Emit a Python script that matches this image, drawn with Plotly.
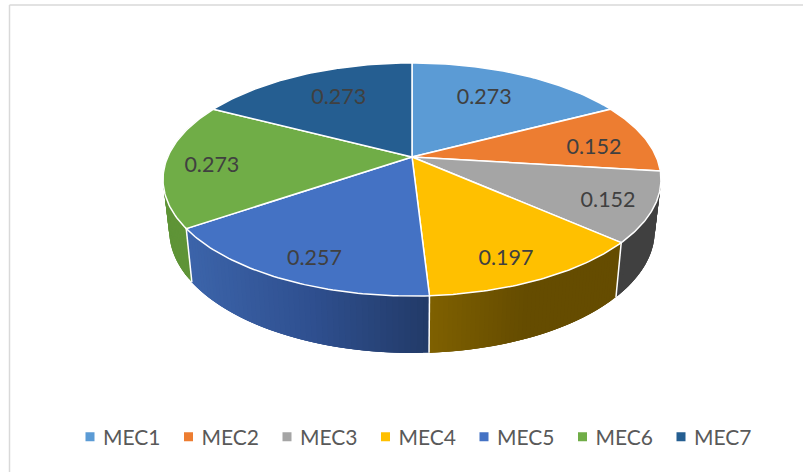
import math
import plotly.graph_objects as go

# ---- data ----
categories = ["MEC1", "MEC2", "MEC3", "MEC4", "MEC5", "MEC6", "MEC7"]
values = [0.273, 0.152, 0.152, 0.197, 0.257, 0.273, 0.273]

# ---- styles ----
top_colors = ["#5B9BD5", "#ED7D31", "#A5A5A5", "#FFC000", "#4472C4", "#70AD47", "#255E91"]
wall_left = ["#3E6E9B", "#A85820", "#404040", "#7F6000", "#3C64AA", "#5F9437", "#1B4468"]
wall_mid = ["#3E6E9B", "#A85820", "#404040", "#654C00", "#2F5090", "#5F9437", "#1B4468"]
wall_right = ["#3E6E9B", "#A85820", "#404040", "#654C00", "#223A68", "#5F9437", "#1B4468"]
label_nudge = [(-5, 13), (35, 7), (60, 10), (29, 28), (-32, 28), (-51, 5), (4, 13)]

# projection of the pie disc (tilted circle in perspective), in page pixels
HUB_X, HUB_Y = 412, 157
A, B, K = 244.3, 112.2, 0.193


def top_pt(t):
    d = 1 + K * math.cos(t)
    return HUB_X + A * math.sin(t) / d, HUB_Y - B * math.cos(t) / d


def bottom_pt(t):
    x, y = top_pt(t)
    return HUB_X + 0.975 * (x - HUB_X), 207 + 1.05 * (y - HUB_Y)


def hex2rgb(h):
    return tuple(int(h[i:i + 2], 16) for i in (1, 3, 5))


def mix(c1, c2, f):
    a, b = hex2rgb(c1), hex2rgb(c2)
    return "rgb(%d,%d,%d)" % tuple(round(a[i] + (b[i] - a[i]) * f) for i in range(3))


total = sum(values)
edges = [0.0]
for v in values:
    edges.append(edges[-1] + v / total * 2 * math.pi)

fig = go.Figure()

# side walls: strips painted one over another so that no seam shows between them
for i in range(2, 6):
    t0, t1 = edges[i], edges[i + 1]
    n = 50
    for s in range(n):
        a0 = t0 + (t1 - t0) * s / n
        a1 = min(t1, t0 + (t1 - t0) * (s + 3) / n)
        am = t0 + (t1 - t0) * (s + 0.5) / n
        xm = top_pt(am)[0]
        xl = min(top_pt(t0)[0], top_pt(t1)[0])
        xr = max(top_pt(t0)[0], top_pt(t1)[0])
        f = (xm - xl) / (xr - xl) if xr > xl else 0
        col = mix(wall_left[i], wall_mid[i], f * 2) if f < 0.5 else mix(wall_mid[i], wall_right[i], (f - 0.5) * 2)
        steps = [a0 + (a1 - a0) * k / 6 for k in range(7)]
        pts = [top_pt(a) for a in steps] + [bottom_pt(a) for a in reversed(steps)]
        pts.append(pts[0])
        fig.add_trace(go.Scatter(x=[p[0] for p in pts], y=[p[1] for p in pts], mode="lines",
                                 fill="toself", fillcolor=col, line=dict(width=0),
                                 hoverinfo="skip", showlegend=False))

# white seams between the walls
for i in range(2, 7):
    p, q = top_pt(edges[i]), bottom_pt(edges[i])
    if math.radians(120) < edges[i] < math.radians(270):
        fig.add_trace(go.Scatter(x=[p[0], q[0]], y=[p[1], q[1]], mode="lines",
                                 line=dict(color="white", width=1.5),
                                 hoverinfo="skip", showlegend=False))

# top face
for i, name in enumerate(categories):
    n = 60
    pts = [(HUB_X, HUB_Y)] + [top_pt(edges[i] + (edges[i + 1] - edges[i]) * k / n) for k in range(n + 1)]
    pts.append(pts[0])
    fig.add_trace(go.Scatter(x=[p[0] for p in pts], y=[p[1] for p in pts], mode="lines",
                             fill="toself", fillcolor=top_colors[i],
                             line=dict(color="white", width=1.5),
                             name=name, text=str(values[i]), hoverinfo="name+text", showlegend=False))

# value labels
lx, ly, lt = [], [], []
for i, v in enumerate(values):
    mid = (edges[i] + edges[i + 1]) / 2
    lx.append(HUB_X + 249 * 0.6 * math.sin(mid) + label_nudge[i][0])
    ly.append(HUB_Y - 139 * 0.6 * math.cos(mid) + label_nudge[i][1])
    lt.append(f"{v:.3f}")
fig.add_trace(go.Scatter(x=lx, y=ly, text=lt, mode="text", textposition="middle center",
                         textfont=dict(family="Lato", size=21.5, color="#404040"),
                         hoverinfo="skip", showlegend=False))

# legend entries
for i, name in enumerate(categories):
    fig.add_trace(go.Scatter(x=[None], y=[None], mode="markers", name=name,
                             marker=dict(symbol="square", size=9, color=top_colors[i])))

fig.update_layout(
    width=803, height=472, margin=dict(l=0, r=0, t=0, b=0),
    paper_bgcolor="white", plot_bgcolor="white",
    xaxis=dict(range=[0, 803], visible=False, fixedrange=True, domain=[0, 1]),
    yaxis=dict(range=[472, 0], visible=False, fixedrange=True, domain=[0, 1]),
    legend=dict(orientation="h", x=63 / 803, xanchor="left", y=1 - 437 / 472, yanchor="middle",
                entrywidth=53.5, entrywidthmode="pixels", itemwidth=30, bgcolor="rgba(0,0,0,0)",
                font=dict(family="Lato", size=21, color="#595959")),
    shapes=[
        dict(type="line", xref="paper", yref="paper", x0=9.5 / 803, x1=1, y0=1 - 5 / 472, y1=1 - 5 / 472,
             line=dict(color="#D9D9D9", width=1.5)),
        dict(type="line", xref="paper", yref="paper", x0=9.5 / 803, x1=9.5 / 803, y0=0, y1=1 - 5 / 472,
             line=dict(color="#D9D9D9", width=1.5)),
    ],
)

fig.write_html(
    "out.html", config=dict(displayModeBar=False),
    post_script="document.body.style.margin='0';"
                "document.querySelectorAll('.legendsymbols').forEach(function(g){"
                "g.setAttribute('transform','translate(7,0)');});",
)
